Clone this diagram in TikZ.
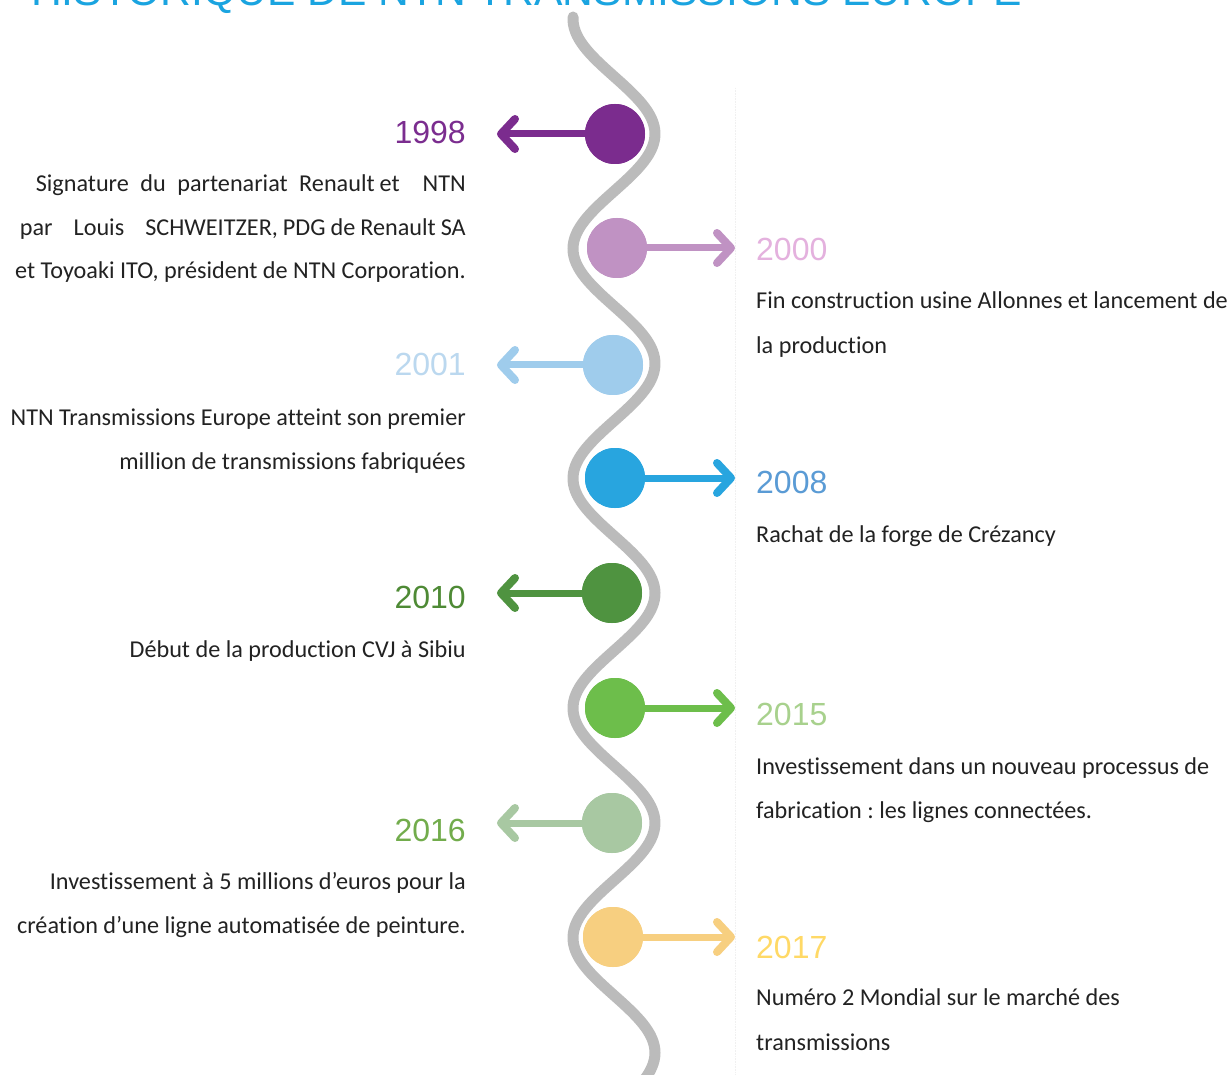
\documentclass[tikz,border=0pt]{standalone}
\usepackage{fontspec}
\setmainfont{Carlito}[Ligatures={NoCommon,NoContextual}]
\newfontfamily\arialf{Liberation Sans}
\frenchspacing
\definecolor{wavegray}{HTML}{BBBBBB}
\definecolor{titleblue}{HTML}{1AA4E0}
\definecolor{bodytext}{HTML}{222222}
\definecolor{cA}{HTML}{7B2C8E}\definecolor{yA}{HTML}{7B2D8F}
\definecolor{cB}{HTML}{C092C3}\definecolor{yB}{HTML}{E4B1DE}
\definecolor{cC}{HTML}{9FCCEC}\definecolor{yC}{HTML}{BBD8EF}
\definecolor{cD}{HTML}{28A5DF}\definecolor{yD}{HTML}{5A9BD5}
\definecolor{cE}{HTML}{4F9340}\definecolor{yE}{HTML}{4E8A35}
\definecolor{cF}{HTML}{6DBE4B}\definecolor{yF}{HTML}{A8D18D}
\definecolor{cG}{HTML}{A8C8A2}\definecolor{yG}{HTML}{72AC4C}
\definecolor{cH}{HTML}{F7CF80}\definecolor{yH}{HTML}{FFD966}
\begin{document}
\begin{tikzpicture}[x=1pt,y=-1pt,
  wave/.style={line width=11pt, draw=wavegray, line cap=round},
  dot/.style={circle, minimum size=60pt, inner sep=0pt, fill=#1},
  shaft/.style={line width=7pt, draw=#1},
  barb/.style={line width=8pt, draw=#1, line cap=round, line join=round},
  year/.style={font=\arialf\fontsize{32}{32}\selectfont, inner sep=0pt, text=#1},
  body/.style={font=\fontsize{24.2}{24.2}\selectfont, inner sep=0pt, text=bodytext},
  lbody/.style={body, anchor=base east},
  rbody/.style={body, anchor=base west}]
\useasboundingbox (0,0) rectangle (1227,1075);
\fill[white] (0,0) rectangle (1227,1075);
% title (cut by the top edge)
\node[anchor=base west, font=\arialf\fontsize{42.6}{42.6}\selectfont, text=titleblue, inner sep=0pt] (title) at (31,6) {HISTORIQUE DE NTN TRANSMISSIONS EUROPE};
% faint frame line
\draw[gray!12, line width=0.6pt, densely dotted] (735,88) coordinate (fa) -- (735,1075) coordinate (fb);
% wave
\draw[wave] plot[domain=17:1100, samples=300, variable=\t] ({614-41*cos(1.56713*(\t-19))}, \t);
% circles
\node[dot=cA] (c1) at (615,134) {};
\node[dot=cB] (c2) at (617,248) {};
\node[dot=cC] (c3) at (613,365) {};
\node[dot=cD] (c4) at (615,478) {};
\node[dot=cE] (c5) at (612,593) {};
\node[dot=cF] (c6) at (615,708) {};
\node[dot=cG] (c7) at (612,823) {};
\node[dot=cH] (c8) at (613,937) {};
% tips
\coordinate (t1) at (501,134);
\coordinate (t2) at (731,248);
\coordinate (t3) at (501,365);
\coordinate (t4) at (731,478);
\coordinate (t5) at (501,593);
\coordinate (t6) at (731,708);
\coordinate (t7) at (501,823);
\coordinate (t8) at (731,937);
% arrows
\foreach \i/\c in {1/cA,3/cC,5/cE,7/cG}{
  \draw[shaft=\c] (c\i.center) -- (t\i);
  \draw[barb=\c] ([shift={(14,-15)}]t\i) -- (t\i) -- ([shift={(14,15)}]t\i);
}
\foreach \i/\c in {2/cB,4/cD,6/cF,8/cH}{
  \draw[shaft=\c] (c\i.center) -- (t\i);
  \draw[barb=\c] ([shift={(-14,-15)}]t\i) -- (t\i) -- ([shift={(-14,15)}]t\i);
}
\foreach \i/\c in {1/cA,2/cB,3/cC,4/cD,5/cE,6/cF,7/cG,8/cH}{
  \fill[\c] (c\i) circle (30pt);
}
% years
\node[year=yA, anchor=base east] (y1) at (466,144) {1998};
\node[year=yB, anchor=base west] (y2) at (756,261) {2000};
\node[year=yC, anchor=base east] (y3) at (466,376) {2001};
\node[year=yD, anchor=base west] (y4) at (756,493) {2008};
\node[year=yE, anchor=base east] (y5) at (466,608) {2010};
\node[year=yF, anchor=base west] (y6) at (756,725) {2015};
\node[year=yG, anchor=base east] (y7) at (466,841) {2016};
\node[year=yH, anchor=base west] (y8) at (756,958) {2017};
% texts
\node[lbody] (b11) at (466,192) {\makebox[430pt][s]{Signature\hfil du\hfil partenariat\hfil Renault\kern5pt et\hfil\hfil NTN}};
\node[lbody] (b12) at (466,236) {\makebox[446pt][s]{par\hfil Louis\hfil SCHWEITZER,\kern5pt PDG\kern5pt de\kern5pt Renault\kern5pt SA}};
\node[lbody] (b13) at (466,279) {et Toyoaki ITO, président de NTN Corporation.};
\node[rbody] (b21) at (756,309) {Fin construction usine Allonnes et lancement de};
\node[rbody] (b22) at (756,354) {la production};
\node[lbody] (b31) at (466,425) {NTN Transmissions Europe atteint son premier};
\node[lbody] (b32) at (466,469) {million de transmissions fabriquées};
\node[rbody] (b41) at (756,542) {Rachat de la forge de Crézancy};
\node[lbody] (b51) at (466,657) {Début de la production CVJ à Sibiu};
\node[rbody] (b61) at (756,774) {Investissement dans un nouveau processus de};
\node[rbody] (b62) at (756,818) {fabrication : les lignes connectées.};
\node[lbody] (b71) at (466,889) {Investissement à 5 millions d’euros pour la};
\node[lbody] (b72) at (466,933) {création d’une ligne automatisée de peinture.};
\node[rbody] (b81) at (756,1005) {Numéro 2 Mondial sur le marché des};
\node[rbody] (b82) at (756,1050) {transmissions};
\end{tikzpicture}
\end{document}
